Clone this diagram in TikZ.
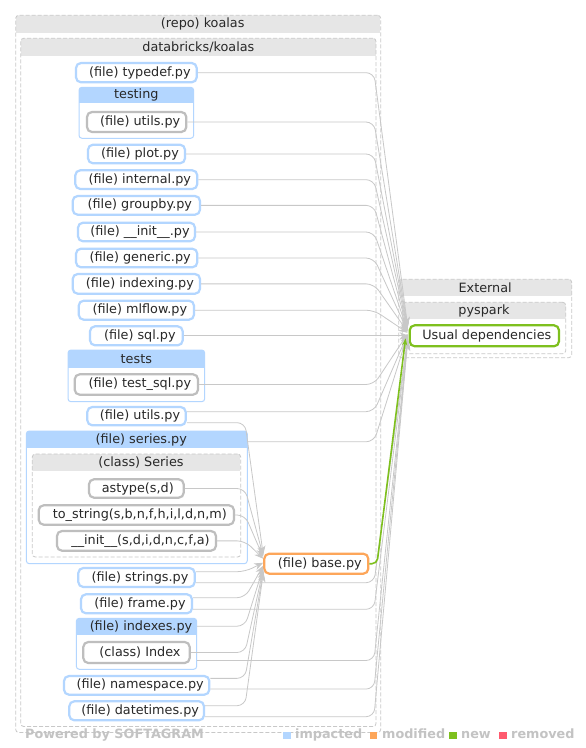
\documentclass[tikz,border=0pt]{standalone}
\usepackage{fontspec}
\setmainfont{DejaVu Sans}
\usetikzlibrary{arrows.meta,calc}
\definecolor{impblue}{RGB}{179,214,255}
\definecolor{modorange}{RGB}{253,166,90}
\definecolor{newgreen}{RGB}{126,192,30}
\definecolor{remred}{RGB}{255,90,110}
\definecolor{clsgray}{RGB}{190,190,190}
\definecolor{hdrgray}{RGB}{230,230,230}
\definecolor{dashgray}{RGB}{200,200,200}
\definecolor{edgegray}{RGB}{200,200,200}
\definecolor{leggray}{RGB}{195,195,195}
\definecolor{txtc}{RGB}{40,40,40}
\tikzset{
 lbl/.style={font=\fontsize{12.8}{15}\selectfont, text=txtc, inner sep=0pt},
 filen/.style={lbl, draw=impblue, line width=2.2pt, rounded corners=5pt, fill=white},
 clsn/.style={filen, draw=clsgray},
 modn/.style={filen, draw=modorange},
 newn/.style={filen, draw=newgreen},
 grpb/.style={draw=impblue, line width=1pt, rounded corners=3pt},
 grpd/.style={draw=dashgray, line width=0.8pt, dash pattern=on 4pt off 2pt, rounded corners=3pt},
 grptitle/.style={lbl},
 dep/.style={draw=edgegray, line width=0.8pt, rounded corners=8pt, -{Stealth[length=9pt,width=7pt]}},
 newdep/.style={draw=newgreen, line width=1.6pt, rounded corners=5pt, -{Stealth[length=7pt,width=5pt]}},
 leg/.style={font=\bfseries\fontsize{12.8}{15}\selectfont, text=leggray, inner sep=0pt, anchor=base west},
}
% #1 name #2 x0 #3 y0 #4 x1 #5 y1 #6 header bottom #7 header fill #8 border style #9 title
\newcommand\grpbox[9]{%
 \begin{scope}
  \clip[rounded corners=3pt] (#2,#3) rectangle (#4,#5);
  \fill[white] (#2,#3) rectangle (#4,#5);
  \fill[#7] (#2,#3) rectangle (#4,#6);
 \end{scope}
 \node[#8, minimum width={#4-#2}, minimum height={#5-#3}] (#1) at ({(#2+#4)/2},{(#3+#5)/2}) {};
 \node[grptitle] (#1-t) at ({(#2+#4)/2},{(#3+#6)/2}) {#9};
}
\newcommand\dep[3]{\draw[dep] (#1) -- (#1 -| #2) -- (#3);}
\begin{document}
\begin{tikzpicture}[x=1pt,y=-1pt]
\useasboundingbox (0,0) rectangle (586,748);
\fill[white] (0,0) rectangle (586,748);

% groups
\grpbox{repo}{15.7}{15.3}{380.7}{732.5}{32.7}{hdrgray}{grpd}{\hspace*{9pt}(repo) koalas}
\grpbox{dbk}{20.7}{38.3}{376}{726.5}{55.7}{hdrgray}{grpd}{databricks/koalas}
\grpbox{testing}{79}{87.3}{193.7}{138.3}{103.3}{impblue}{grpb}{testing}
\grpbox{tests}{68}{350}{204.7}{401.7}{367.7}{impblue}{grpb}{tests}
\grpbox{seriesg}{26.3}{431}{247.3}{563.7}{448.3}{impblue}{grpb}{\hspace*{9pt}(file) series.py}
\grpbox{seriesc}{32.3}{454}{240.7}{557}{471}{hdrgray}{grpd}{\hspace*{9pt}(class) Series}
\grpbox{indexesg}{76.3}{618.3}{196.7}{669.3}{635}{impblue}{grpb}{\hspace*{9pt}(file) indexes.py}
\grpbox{external}{398.7}{279.3}{571.7}{357.7}{295.7}{hdrgray}{grpd}{External}
\grpbox{pyspark}{402.3}{302.3}{565.7}{353.7}{319}{hdrgray}{grpd}{pyspark}

% nodes
\node[filen, minimum width=120.7, minimum height=19.3] (typedef) at (136.35,72.65) {\hspace*{7pt}(file) typedef.py};
\node[clsn, minimum width=99.3, minimum height=20] (utilsT) at (136.65,122) {\hspace*{7pt}(file) utils.py};
\node[filen, minimum width=97, minimum height=18.6] (plot) at (136.5,154) {\hspace*{7pt}(file) plot.py};
\node[filen, minimum width=122, minimum height=18.7] (internal) at (136.3,179.65) {\hspace*{7pt}(file) internal.py};
\node[filen, minimum width=127.3, minimum height=18.7] (groupby) at (136.35,205.35) {\hspace*{7pt}(file) groupby.py};
\node[filen, minimum width=117, minimum height=18.6] (init) at (136.5,232) {\hspace*{7pt}(file) \_\_init\_\_.py};
\node[filen, minimum width=121.3, minimum height=18.6] (generic) at (136.65,258) {\hspace*{7pt}(file) generic.py};
\node[filen, minimum width=127.3, minimum height=19.7] (indexing) at (136.35,283.85) {\hspace*{7pt}(file) indexing.py};
\node[filen, minimum width=115.3, minimum height=19] (mlflow) at (136.35,310.2) {\hspace*{7pt}(file) mlflow.py};
\node[filen, minimum width=92.7, minimum height=19] (sql) at (136.35,335.8) {\hspace*{7pt}(file) sql.py};
\node[clsn, minimum width=123.3, minimum height=20.4] (testsql) at (136.35,384.5) {\hspace*{7pt}(file) test\_sql.py};
\node[filen, minimum width=98.4, minimum height=18.3] (utilsF) at (136.5,416.15) {\hspace*{7pt}(file) utils.py};
\node[clsn, minimum width=94.7, minimum height=18.4] (astype) at (136.35,488.5) {\hspace*{3pt}astype(s,d)};
\node[clsn, minimum width=195.3, minimum height=19.4] (tostring) at (136.35,515) {\hspace*{7pt}to\_string(s,b,n,f,h,i,l,d,n,m)};
\node[clsn, minimum width=159, minimum height=19.7] (initS) at (136.5,540.85) {\hspace*{8pt}\_\_init\_\_(s,d,i,d,n,c,f,a)};
\node[filen, minimum width=116.4, minimum height=19] (strings) at (136.5,577.5) {\hspace*{7pt}(file) strings.py};
\node[filen, minimum width=111, minimum height=19] (frame) at (136.5,603.8) {\hspace*{7pt}(file) frame.py};
\node[clsn, minimum width=106.4, minimum height=21] (Index) at (136.5,652.5) {\hspace*{7pt}(class) Index};
\node[filen, minimum width=145.3, minimum height=18.7] (namespace) at (136.65,685.35) {\hspace*{7pt}(file) namespace.py};
\node[filen, minimum width=134.7, minimum height=19] (datetimes) at (136.65,710.8) {\hspace*{7pt}(file) datetimes.py};
\node[modn, minimum width=104, minimum height=20] (base) at (316.3,563.7) {\hspace*{7pt}(file) base.py};
\node[newn, minimum width=149.3, minimum height=21] (ud) at (484.35,335.8) {\hspace*{5pt}Usual dependencies};

% turn lines
\coordinate (txU) at (374,0);
\coordinate (txB) at (245,0);
\coordinate (txG) at (377,0);
\coordinate (uF1) at ($(utilsF.east)+(0,-4.5)$);
\coordinate (uF2) at ($(utilsF.east)+(0,6.5)$);
\coordinate (serE) at ($(seriesg.north east)+(0,11.3)$);
\coordinate (stB) at ($(strings.east)+(0,-5.8)$);
\coordinate (stU) at ($(strings.east)+(0,5.2)$);
\coordinate (frB) at ($(frame.east)+(0,-6.1)$);
\coordinate (frU) at ($(frame.east)+(0,5.5)$);
\coordinate (ixB) at ($(indexesg.north east)+(0,8.4)$);
\coordinate (ixU) at ($(indexesg.north east)+(0,42.7)$);
\coordinate (nsB) at ($(namespace.east)+(0,-7)$);
\coordinate (nsU) at ($(namespace.east)+(0,3.7)$);
\coordinate (dtB) at ($(datetimes.east)+(0,-5.1)$);
\coordinate (dtU) at ($(datetimes.east)+(0,5.9)$);

% edges to base.py
\dep{uF2}{txB}{$(base.west)+(0,-9)$}
\dep{astype.east}{txB}{$(base.west)+(0,-8)$}
\dep{tostring.east}{txB}{$(base.west)+(0,-6.5)$}
\dep{initS.east}{txB}{$(base.west)+(0,-5)$}
\dep{stB}{txB}{$(base.west)+(0,-1)$}
\dep{frB}{txB}{$(base.west)+(0,2)$}
\dep{ixB}{txB}{$(base.west)+(0,4)$}
\dep{Index.east}{txB}{$(base.west)+(0,6)$}
\dep{nsB}{txB}{$(base.west)+(0,8)$}
\dep{dtB}{txB}{$(base.west)+(0,9.5)$}

% edges to Usual dependencies
\dep{typedef.east}{txU}{$(ud.west)+(-1,-10)$}
\dep{utilsT.east}{txU}{$(ud.west)+(-1,-9)$}
\dep{plot.east}{txU}{$(ud.west)+(-1,-8)$}
\dep{internal.east}{txU}{$(ud.west)+(-1,-7)$}
\dep{groupby.east}{txU}{$(ud.west)+(-1,-6)$}
\dep{init.east}{txU}{$(ud.west)+(-1,-5)$}
\dep{generic.east}{txU}{$(ud.west)+(-1,-4.5)$}
\dep{indexing.east}{txU}{$(ud.west)+(-1,-4)$}
\dep{mlflow.east}{txU}{$(ud.west)+(-1,-3)$}
\draw[dep] (sql.east) -- (ud.west);
\dep{testsql.east}{txU}{$(ud.west)+(-1,-2)$}
\dep{uF1}{txU}{$(ud.west)+(-1,-1.5)$}
\dep{serE}{txU}{$(ud.west)+(-1,-1)$}
\dep{stU}{txU}{$(ud.west)+(-1,2)$}
\dep{frU}{txU}{$(ud.west)+(-1,3)$}
\dep{ixU}{txU}{$(ud.west)+(-1,4)$}
\dep{nsU}{txU}{$(ud.west)+(-1,5)$}
\dep{dtU}{txU}{$(ud.west)+(-1,6)$}
\draw[newdep] (base.east) -- (base.east -| txG) -- ($(ud.west)+(-3,2.5)$);

% legend
\node[leg] (powered) at (25,738) {Powered by SOFTAGRAM};
\fill[impblue] (283.3,731.7) rectangle (290.7,738.7);
\node[leg] (limp) at (295,738) {impacted};
\fill[modorange] (370,731.7) rectangle (377.4,738.7);
\node[leg] (lmod) at (382,738) {modified};
\fill[newgreen] (449.3,731.7) rectangle (456.7,738.7);
\node[leg] (lnew) at (461,738) {new};
\fill[remred] (499.3,731.7) rectangle (506.7,738.7);
\node[leg] (lrem) at (511,738) {removed};
\end{tikzpicture}
\end{document}
